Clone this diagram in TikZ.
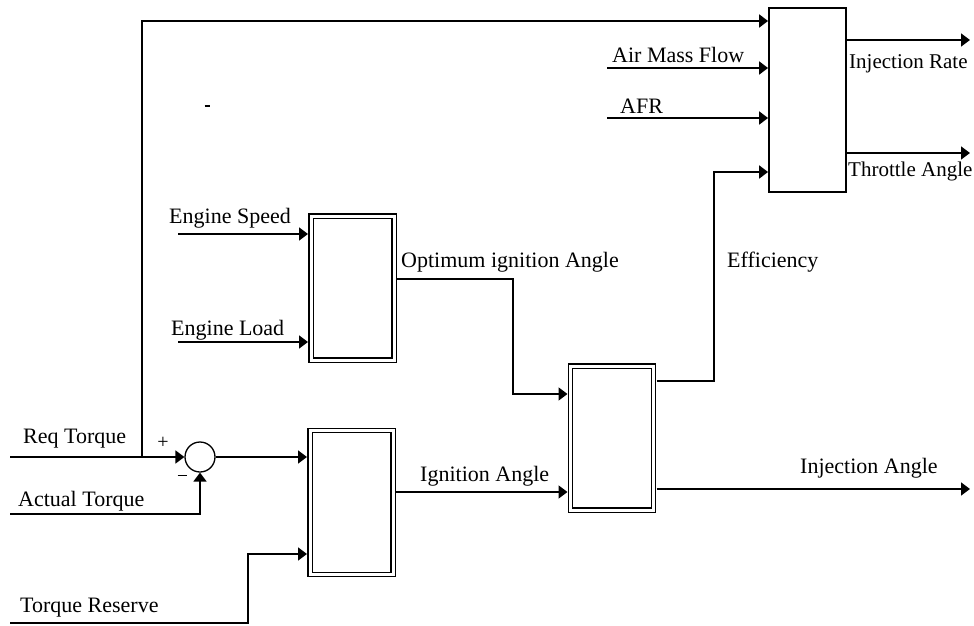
\documentclass[tikz,border=0pt]{standalone}
\usepackage{fontspec}
\setmainfont{Liberation Serif}
\usetikzlibrary{arrows.meta}
\begin{document}
\begin{tikzpicture}[x=1pt,y=-1pt,
  wire/.style={line width=1.8pt},
  arr/.style={wire,-{Triangle[length=9pt,width=13pt]}},
  dblock/.style={draw,double,line width=1.4pt,double distance=3pt,minimum width=83pt,minimum height=144pt,outer sep=3pt,inner sep=0pt},
  sblock/.style={draw,line width=1.8pt,minimum width=77pt,minimum height=184pt,outer sep=0.9pt,inner sep=0pt},
  sumnode/.style={draw,circle,line width=1.3pt,minimum size=30pt,inner sep=0pt,outer sep=0.6pt},
  lbl/.style={anchor=base west,inner sep=0pt,font=\fontsize{22}{26}\selectfont},
  rlbl/.style={anchor=base west,inner sep=0pt,font=\fontsize{21}{25}\selectfont},
  sgn/.style={inner sep=0pt,font=\fontsize{20}{24}\selectfont}]
\useasboundingbox (0,0) rectangle (974,626);
\fill[white] (0,0) rectangle (974,626);

% blocks
\node[dblock] (b1) at (352.5,288) {};
\node[dblock] (b2) at (351.5,502.5) {};
\node[dblock] (b3) at (612,438) {};
\node[sblock] (b4) at (807.5,100) {};
\node[sumnode] (sum) at (200,457) {};

% free ends
\coordinate (reqin) at (10,457);
\coordinate (tap) at (142,457);
\coordinate (atin) at (10,514);
\coordinate (trin) at (10,623);
\coordinate (es) at (178,234);
\coordinate (el) at (178,342);
\coordinate (amf) at (607,68);
\coordinate (afr) at (607,118);
\coordinate (irout) at (970,40);
\coordinate (taout) at (970,153);
\coordinate (iaout) at (970,489);

% connectors
\draw[arr] (reqin) -- (sum.west);
\draw[arr] (tap) |- (b4.west |- 0,21);
\draw[arr] (atin) -| (sum.south);
\draw[arr] (trin) -- (248,623) |- (b2.west |- 0,554);
\draw[arr] (sum.east) -- (b2.west |- sum.east);
\draw[arr] (es) -- (b1.west |- es);
\draw[arr] (el) -- (b1.west |- el);
\draw[arr] (b1.east |- 0,279) -| (513,394) -- (b3.west |- 0,394);
\draw[arr] (b2.east |- 0,492) -- (b3.west |- 0,492);
\draw[arr] (b3.east |- 0,381) -| (714,172) -- (b4.west |- 0,172);
\draw[arr] (b3.east |- iaout) -- (iaout);
\draw[arr] (amf) -- (b4.west |- amf);
\draw[arr] (afr) -- (b4.west |- afr);
\draw[arr] (b4.east |- irout) -- (irout);
\draw[arr] (b4.east |- taout) -- (taout);

% labels
\node[lbl] (l1) at (612,63) {Air Mass Flow};
\node[lbl] (l2) at (620,113) {AFR};
\node[rlbl] (l3) at (849,68) {Injection Rate};
\node[rlbl] (l4) at (848,176) {Throttle Angle};
\node[lbl] (l5) at (169,223) {Engine Speed};
\node[lbl] (l6) at (171,335) {Engine Load};
\node[lbl] (l7) at (401,267) {Optimum ignition Angle};
\node[lbl] (l8) at (727,267) {Efficiency};
\node[lbl] (l9) at (800,473) {Injection Angle};
\node[lbl] (l10) at (420,481) {Ignition Angle};
\node[lbl] (l11) at (23,443) {Req Torque};
\node[lbl] (l12) at (18,506) {Actual Torque};
\node[lbl] (l13) at (20,612) {Torque Reserve};
\node[sgn] (plus) at (163,443) {+};
\node[sgn] (minus) at (182,477) {\raisebox{0.4ex}{\rule{9pt}{1.2pt}}};
\node[sgn] (dash) at (207,106) {\rule{5pt}{1.4pt}};
\end{tikzpicture}
\end{document}
